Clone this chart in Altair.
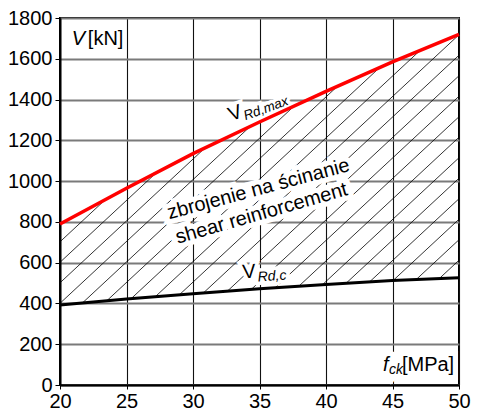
import altair as alt
import pandas as pd
import numpy as np

# ---- data ----
fck = [20, 25, 30, 35, 40, 45, 50]
v_rd_max = [790, 965, 1135, 1290, 1440, 1585, 1720]
v_rd_c = [392, 422, 448, 472, 493, 512, 526]

x_ticks = [20, 25, 30, 35, 40, 45, 50]
y_ticks = [0, 200, 400, 600, 800, 1000, 1200, 1400, 1600, 1800]

# ---- layout / style ----
W, H = 399, 367
XMIN, XMAX = 20, 50
YMIN, YMAX = 0, 1800
FONT = "Liberation Sans"

# hatch pattern (pixel space): slope, spacing, phase
HATCH_SLOPE = 0.93
HATCH_STEP = 20.5
HATCH_PHASE = 81.7

u_pts = (np.array(fck) - XMIN) / (XMAX - XMIN) * W
lo_pts = np.array(v_rd_c) / (YMAX - YMIN) * H
hi_pts = np.array(v_rd_max) / (YMAX - YMIN) * H
ug = np.linspace(0, W, 4001)
lo = np.interp(ug, u_pts, lo_pts)
hi = np.interp(ug, u_pts, hi_pts)
segs = []
for k in range(-60, 60):
    c = HATCH_PHASE + k * HATCH_STEP
    line = HATCH_SLOPE * ug + c
    ok = (line >= lo) & (line <= hi)
    if ok.sum() < 2:
        continue
    idx = np.where(ok)[0]
    ua, ub = ug[idx[0]], ug[idx[-1]]
    segs.append({
        "x": XMIN + ua / W * (XMAX - XMIN),
        "y": (HATCH_SLOPE * ua + c) / H * (YMAX - YMIN),
        "x2": XMIN + ub / W * (XMAX - XMIN),
        "y2": (HATCH_SLOPE * ub + c) / H * (YMAX - YMIN),
    })
hatch_df = pd.DataFrame(segs)

curves = pd.DataFrame({"fck": fck, "vmax": v_rd_max, "vc": v_rd_c})

xs = alt.Scale(domain=[XMIN, XMAX], nice=False, zero=False)
ys = alt.Scale(domain=[YMIN, YMAX], nice=False)

hatch = alt.Chart(hatch_df).mark_rule(color="black", strokeWidth=0.8).encode(
    x=alt.X("x:Q", scale=xs, axis=alt.Axis(values=x_ticks, format="d", title=None,
            gridColor="#111", gridWidth=1.1, tickSize=4, labelPadding=2)),
    y=alt.Y("y:Q", scale=ys, axis=alt.Axis(values=y_ticks, format="d", title=None,
            gridColor="#7a7a7a", gridWidth=2, tickSize=5, labelPadding=3)),
    x2="x2:Q", y2="y2:Q",
)

red = alt.Chart(curves).mark_line(color="#ff0000", strokeWidth=3.5).encode(
    x=alt.X("fck:Q", scale=xs), y=alt.Y("vmax:Q", scale=ys))
black = alt.Chart(curves).mark_line(color="black", strokeWidth=3).encode(
    x=alt.X("fck:Q", scale=xs), y=alt.Y("vc:Q", scale=ys))

halos = []
texts = []


def label(text, fx, v, size, angle=0, italic=False, align="left", dx=0, dy=0, halo=6):
    df = pd.DataFrame({"fx": [fx], "v": [v], "t": [text]})
    kw = dict(align=align, baseline="alphabetic", font=FONT, fontSize=size,
              fontStyle="italic" if italic else "normal", angle=angle % 360, dx=dx, dy=dy)
    enc = dict(x=alt.X("fx:Q", scale=xs), y=alt.Y("v:Q", scale=ys), text="t:N")
    if halo:
        halos.append(alt.Chart(df).mark_text(color="white", stroke="white",
                                             strokeWidth=halo, **kw).encode(**enc))
    texts.append(alt.Chart(df).mark_text(color="black", **kw).encode(**enc))


# axis titles inside the plot
label("V", 20.89, 1670, 20, italic=True)
label("[kN]", 20.89, 1670, 20, dx=16)
label("f", 44.28, 68, 20, italic=True, halo=10)
label("ck", 44.28, 68, 14, italic=True, dx=6, dy=3, halo=10)
label("[MPa]", 44.28, 68, 20, dx=19, halo=10)

# curve labels
label("V", 32.85, 1293, 20, angle=-20, halo=7)
label("Rd,max", 32.85, 1293, 13.5, angle=-20, italic=True, dx=14, dy=4, halo=7)
label("V", 33.74, 522, 20, angle=-4, halo=7)
label("Rd,c", 33.74, 522, 14, angle=-4, italic=True, dx=15, dy=4, halo=7)

# region labels
label("zbrojenie na ścinanie", 35.04, 932, 20, angle=-15, align="center", halo=10)
label("shear reinforcement", 35.28, 813, 20, angle=-16, align="center", halo=10)

chart = alt.layer(hatch, *halos, red, black, *texts).properties(
    width=W, height=H,
    autosize=alt.AutoSizeParams(type="none"),
    padding={"left": 52, "top": 10, "right": 12, "bottom": 28},
).configure_axis(
    labelFont=FONT, labelFontSize=20, labelColor="black",
    domainColor="black", domainWidth=2, tickColor="black", tickWidth=1,
    labelOverlap=False, labelFlush=False,
).configure_view(stroke="black", strokeWidth=2)

chart.save("out.html", embed_options={"renderer": "svg", "actions": False})
